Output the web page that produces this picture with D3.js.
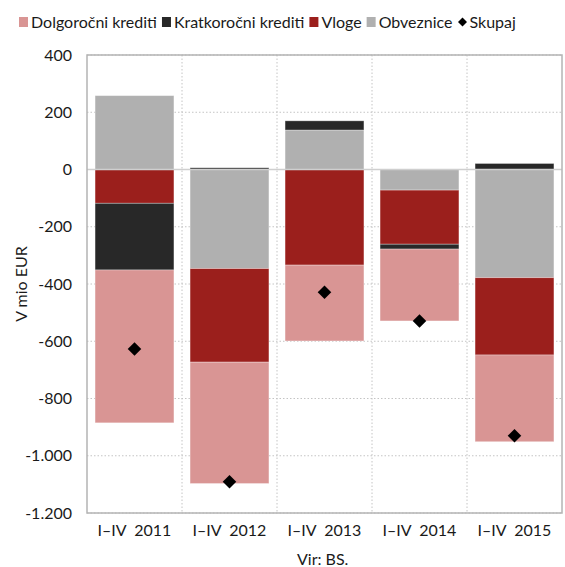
<!DOCTYPE html>
<html>
<head>
<meta charset="utf-8">
<script src="https://cdn.jsdelivr.net/npm/d3@7"></script>
<style>
  body { margin: 0; background: #fff; }
  text { font-family: Lato, "Open Sans", sans-serif; fill: #1a1a1a; }
</style>
</head>
<body>
<div id="chart"></div>
<script>
// data (mio EUR)
var periods = ["I–IV  2011", "I–IV  2012", "I–IV  2013", "I–IV  2014", "I–IV  2015"];
var dolgorocni = [-534, -424, -265, -251, -303];
var kratkorocni = [-233, 6, 32, -17, 21];
var vloge = [-118, -327, -334, -189, -270];
var obveznice = [258, -346, 138, -72, -378];
var skupaj = [-627, -1091, -429, -529, -930];
var yTicks = [400, 200, 0, -200, -400, -600, -800, -1000, -1200];

var seriesNames = ["Dolgoročni krediti", "Kratkoročni krediti", "Vloge", "Obveznice"];
var colors = {
  "Dolgoročni krediti": "#d99594",
  "Kratkoročni krediti": "#282828",
  "Vloge": "#9b1f1c",
  "Obveznice": "#b0b0b0"
};

// build rows for the stack
var rows = periods.map(function(p, i) {
  return {
    period: p,
    "Dolgoročni krediti": dolgorocni[i],
    "Kratkoročni krediti": kratkorocni[i],
    "Vloge": vloge[i],
    "Obveznice": obveznice[i],
    total: skupaj[i]
  };
});

var W = 565, H = 567;
var margin = {top: 55, right: 3, bottom: 54, left: 87};
var width = W - margin.left - margin.right,
    height = H - margin.top - margin.bottom;
var fs = "16px";

var svg = d3.select("#chart").append("svg")
  .attr("width", W).attr("height", H);

var g = svg.append("g")
  .attr("transform", "translate(" + margin.left + "," + margin.top + ")");

var x = d3.scaleBand().domain(periods).range([0, width]).paddingInner(0.17).paddingOuter(0.085);
var xOuter = d3.scaleBand().domain(periods).range([0, width]).padding(0);
var y = d3.scaleLinear().domain([-1200, 400]).range([height, 0]);

// grid
g.selectAll(".hgrid").data(yTicks).enter().append("line")
  .attr("x1", 0).attr("x2", width)
  .attr("y1", function(d) { return y(d); }).attr("y2", function(d) { return y(d); })
  .attr("stroke", "#c4c4c4").attr("stroke-dasharray", "1.5,2");
g.selectAll(".vgrid").data(periods.slice(1)).enter().append("line")
  .attr("x1", function(d) { return xOuter(d); }).attr("x2", function(d) { return xOuter(d); })
  .attr("y1", 0).attr("y2", height)
  .attr("stroke", "#c4c4c4").attr("stroke-dasharray", "1.5,2");

// stacked bars (order from zero: Obveznice, Vloge, Kratkoročni, Dolgoročni)
var stack = d3.stack()
  .keys(["Obveznice", "Vloge", "Kratkoročni krediti", "Dolgoročni krediti"])
  .offset(d3.stackOffsetDiverging);
var stacked = stack(rows);

g.selectAll(".layer").data(stacked).enter().append("g")
  .attr("fill", function(d) { return colors[d.key]; })
  .selectAll("rect").data(function(d) { return d; }).enter().append("rect")
  .attr("x", function(d) { return x(d.data.period); })
  .attr("width", x.bandwidth())
  .attr("y", function(d) { return y(Math.max(d[0], d[1])); })
  .attr("height", function(d) { return Math.abs(y(d[0]) - y(d[1])); })
  .attr("stroke", "#ffffff").attr("stroke-opacity", 0.4).attr("stroke-width", 0.8);

// zero line
g.append("line")
  .attr("x1", 0).attr("x2", width).attr("y1", y(0)).attr("y2", y(0))
  .attr("stroke", "#cfcfcf").attr("stroke-width", 1.5);

// frame
g.append("rect")
  .attr("x", 0).attr("y", 0).attr("width", width).attr("height", height)
  .attr("fill", "none").attr("stroke", "#b4b4b4").attr("stroke-width", 1.5);

// total markers
var diamond = d3.symbol().type(d3.symbolSquare).size(92);
g.selectAll(".tot").data(rows).enter().append("path")
  .attr("d", diamond)
  .attr("transform", function(d) {
    return "translate(" + (x(d.period) + x.bandwidth() / 2) + "," + y(d.total) + ") rotate(45)";
  })
  .attr("fill", "#000");

// axes
var yAxis = g.append("g").call(d3.axisLeft(y).tickValues(yTicks).tickSize(0).tickPadding(15)
  .tickFormat(function(d) { return d3.format(",")(d).replace(",", ".").replace("−", "-"); }));
yAxis.select(".domain").remove();
yAxis.selectAll("text").style("font-size", fs).attr("fill", "#1a1a1a")
  .style("font-family", "Lato, sans-serif");

var xAxis = g.append("g").attr("transform", "translate(0," + height + ")")
  .call(d3.axisBottom(xOuter).tickSize(0).tickPadding(12));
xAxis.select(".domain").remove();
xAxis.selectAll("text").style("font-size", fs).attr("fill", "#1a1a1a")
  .style("font-family", "Lato, sans-serif").style("white-space", "pre")
  .attr("xml:space", "preserve");

// y title
svg.append("text")
  .attr("transform", "translate(27," + (margin.top + height / 2) + ") rotate(-90)")
  .attr("text-anchor", "middle")
  .style("font-size", fs)
  .text("V mio EUR");

// source
svg.append("text")
  .attr("x", 297).attr("y", 565)
  .style("font-size", fs)
  .text("Vir: BS.");

// legend
var legendItems = seriesNames.concat(["Skupaj"]);
var lx = 19;
legendItems.forEach(function(name) {
  var lg = svg.append("g").attr("transform", "translate(" + lx + ",22)");
  if (name === "Skupaj") {
    lg.append("path").attr("d", d3.symbol().type(d3.symbolSquare).size(40))
      .attr("transform", "translate(5,0) rotate(45)").attr("fill", "#000");
  } else {
    lg.append("rect").attr("x", 0).attr("y", -5).attr("width", 9).attr("height", 10)
      .attr("fill", colors[name]);
  }
  var t = lg.append("text").attr("x", 12).attr("y", 6)
    .style("font-size", fs).text(name);
  lx += 12 + t.node().getComputedTextLength() + 5;
});
</script>
</body>
</html>
